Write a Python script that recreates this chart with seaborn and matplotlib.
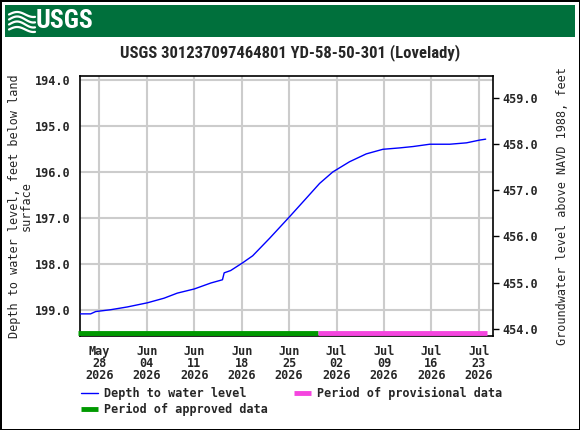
import numpy as np
import pandas as pd
import matplotlib
matplotlib.use("Agg")
import matplotlib.pyplot as plt
import matplotlib.dates as mdates
from matplotlib import font_manager
import seaborn as sns

sns.set_theme(style="white")
plt.rcParams['font.family'] = ['DejaVu Sans Mono']
plt.rcParams['font.weight'] = 'bold'

# Depth to water level readings (feet below land surface)
obs_times = [
    "2026-05-25 04:00", "2026-05-26 17:00", "2026-05-27 11:00", "2026-05-29 16:00",
    "2026-06-01 03:00", "2026-06-04 02:00", "2026-06-06 13:00", "2026-06-08 12:00",
    "2026-06-11 00:00", "2026-06-13 11:00", "2026-06-15 04:00", "2026-06-15 10:00",
    "2026-06-16 09:00", "2026-06-18 04:00", "2026-06-19 15:00", "2026-06-22 03:00",
    "2026-06-25 02:00", "2026-06-27 13:00", "2026-06-29 12:00", "2026-07-01 11:00",
    "2026-07-03 22:00", "2026-07-06 09:00", "2026-07-08 20:00", "2026-07-11 07:00",
    "2026-07-13 07:00", "2026-07-15 18:00", "2026-07-18 17:00", "2026-07-21 04:00",
    "2026-07-23 03:00", "2026-07-24 00:00",
]
depth_ft = [
    199.08, 199.08, 199.03, 198.99,
    198.93, 198.84, 198.74, 198.63,
    198.54, 198.41, 198.34, 198.19,
    198.14, 197.97, 197.82, 197.44,
    196.97, 196.57, 196.25, 196.00,
    195.78, 195.61, 195.51, 195.48,
    195.45, 195.40, 195.40, 195.37,
    195.31, 195.29,
]

approved_period = ["2026-05-24 19:00", "2026-06-29 07:00"]
provisional_period = ["2026-06-29 07:00", "2026-07-24 06:00"]

tick_dates = ["2026-05-28", "2026-06-04", "2026-06-11", "2026-06-18", "2026-06-25",
              "2026-07-02", "2026-07-09", "2026-07-16", "2026-07-23"]
left_ticks = [194.0, 195.0, 196.0, 197.0, 198.0, 199.0]
right_ticks = [454.0, 455.0, 456.0, 457.0, 458.0, 459.0]
land_surface = 653.4  # altitude of land surface, ft NAVD 1988

df = pd.DataFrame({"time": pd.to_datetime(obs_times), "depth": depth_ft})

# pick a condensed sans if one is around
names = {f.name for f in font_manager.fontManager.ttflist}
narrow = [n for n in ["Liberation Sans Narrow", "DejaVu Sans Condensed", "Roboto Condensed"]
          if n in names]
title_family = narrow[:1] + ["Liberation Sans"]

fig = plt.figure(figsize=(5.8, 4.3), dpi=100)
fig.patch.set_edgecolor("black")
fig.patch.set_linewidth(2)

# header bar with logo
hdr = fig.add_axes([5 / 580, 1 - 36.5 / 430, 570 / 580, 31.5 / 430])
hdr.set_facecolor("#00703C")
hdr.set_xticks([])
hdr.set_yticks([])
for s in hdr.spines.values():
    s.set_visible(False)
hdr.set_xlim(0, 570)
hdr.set_ylim(0, 31.5)
hdr.text(31, 15.5, "USGS", color="white", fontsize=17 if not narrow else 18.5,
         fontweight="bold", family=title_family, va="center", ha="left")
wx = np.linspace(4, 30, 40)
for off, amp in [(22, 2.5), (17, 3), (12, 3), (7, 2.5)]:
    hdr.plot(wx, off + amp * np.sin((wx - 4) / 26 * np.pi * 1.6), color="white", lw=1.6)

ax = fig.add_axes([80 / 580, 1 - 336 / 430, 413 / 580, 260 / 430])

sns.lineplot(data=df, x="time", y="depth", ax=ax, color="#0000FF", lw=1,
             label="Depth to water level", legend=False, zorder=3)

bar_tr = ax.get_xaxis_transform()
ax.plot(pd.to_datetime(approved_period), [0.012, 0.012], color="#009900", lw=3.5,
        transform=bar_tr, clip_on=False, solid_capstyle="butt", zorder=4,
        label="Period of approved data")
ax.plot(pd.to_datetime(provisional_period), [0.012, 0.012], color="#F545DF", lw=3.5,
        transform=bar_tr, clip_on=False, solid_capstyle="butt", zorder=4,
        label="Period of provisional data")

ax.set_xlim(pd.Timestamp("2026-05-25 03:30"), pd.Timestamp("2026-07-25 02:00"))
ax.set_ylim(199.56, 193.92)
ax.set_xticks(pd.to_datetime(tick_dates))
ax.xaxis.set_major_formatter(mdates.DateFormatter("%b\n%d\n%Y"))
ax.set_yticks(left_ticks)
ax.set_yticklabels([f"{v:.1f}" for v in left_ticks])
ax.grid(True, color="#CCCCCC", lw=1.5)
ax.set_axisbelow(True)
for s in ax.spines.values():
    s.set_color("black")
    s.set_linewidth(1.2)
ax.tick_params(axis="x", length=0, pad=6.5, labelsize=8.5)
ax.tick_params(axis="y", length=0, pad=7, labelsize=8.5)
for lbl in ax.get_xticklabels():
    lbl.set_linespacing(0.9)
ax.set_xlabel("")
ax.set_ylabel("Depth to water level, feet below land\nsurface", fontsize=8.5,
              linespacing=0.95, labelpad=1)

ax2 = ax.twinx()
ax2.set_ylim(land_surface - 199.56, land_surface - 193.92)
ax2.set_yticks(right_ticks)
ax2.set_yticklabels([f"{v:.1f}" for v in right_ticks])
ax2.tick_params(axis="y", length=4, width=1, pad=3, labelsize=8.5, color="black")
ax2.grid(False)
for s in ax2.spines.values():
    s.set_visible(False)
ax2.set_ylabel("Groundwater level above NAVD 1988, feet", fontsize=8.5, labelpad=13)

fig.text(0.5, 1 - 53 / 430, "USGS 301237097464801 YD-58-50-301 (Lovelady)",
         ha="center", va="center", fontsize=12 if narrow else 11, fontweight="bold",
         family=title_family)

h, l = ax.get_legend_handles_labels()
fig.legend(h, l, ncol=2, loc="upper left", bbox_to_anchor=(76 / 580, 1 - 382 / 430),
           frameon=False, fontsize=8.5, handlelength=1.5, handletextpad=0.5,
           columnspacing=2.15, labelspacing=0.25, borderaxespad=0)

fig.savefig("out.png", dpi=100)
